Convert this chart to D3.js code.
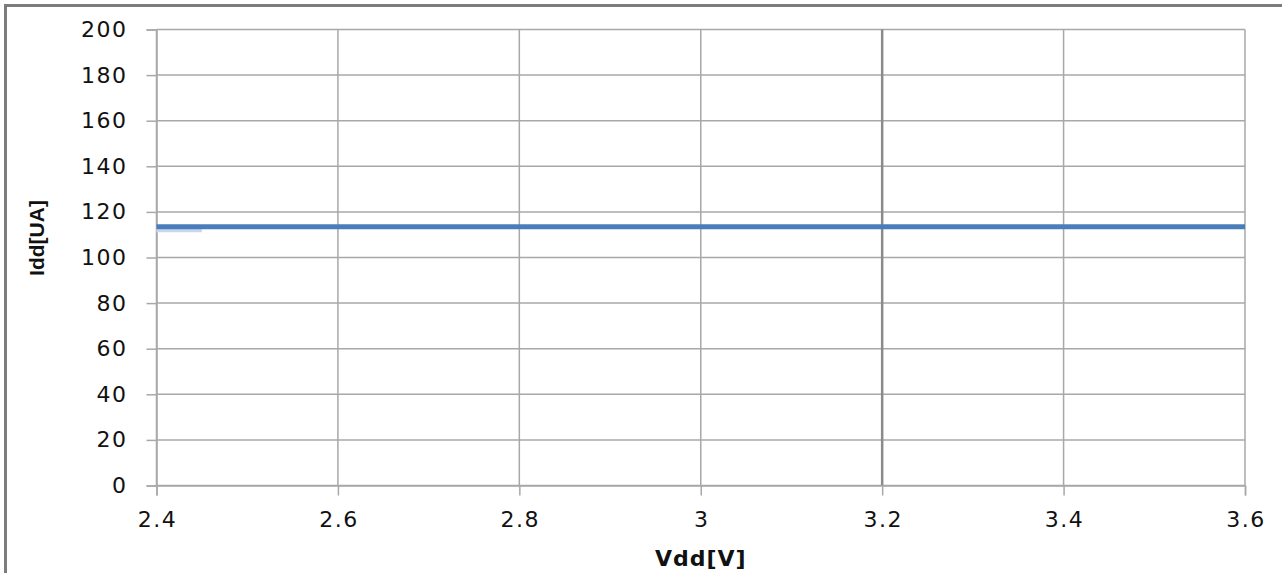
<!DOCTYPE html>
<html><head><meta charset="utf-8">
<script src="https://cdn.jsdelivr.net/npm/d3@7"></script>
<style>body{margin:0;background:#fff;}svg{display:block;}</style>
</head><body>
<svg id="c" width="1282" height="573"></svg>
<script>
const vdd = [2.4, 2.6, 2.8, 3.0, 3.2, 3.4, 3.6];
const idd = [113.5, 113.5, 113.5, 113.5, 113.5, 113.5, 113.5];
const vddShort = [2.4, 2.45];
const iddShort = [112.2, 112.2];
const xTicks = [2.4, 2.6, 2.8, 3.0, 3.2, 3.4, 3.6];
const yTicks = [0, 20, 40, 60, 80, 100, 120, 140, 160, 180, 200];
const xTitle = "Vdd[V]";
const yTitle = "Idd[UA]";

const svg = d3.select("#c");
const L = 156.5, R = 1245, T = 29.5, B = 485.5;
const x = d3.scaleLinear().domain([2.4, 3.6]).range([L, R]);
const y = d3.scaleLinear().domain([0, 200]).range([B, T]);

// outer border
svg.append("rect").attr("x", 5.5).attr("y", 5.5).attr("width", 1400).attr("height", 700)
  .attr("fill", "none").attr("stroke", "#7c7c7c").attr("stroke-width", 3);

const grid = "#a8a8a8";
// horizontal grid
svg.append("g").selectAll("line").data(yTicks).join("line")
  .attr("x1", L).attr("x2", R).attr("y1", d => y(d)).attr("y2", d => y(d))
  .attr("stroke", grid).attr("stroke-width", 1.5);
// vertical grid
svg.append("g").selectAll("line").data(xTicks).join("line")
  .attr("x1", d => x(d)).attr("x2", d => x(d)).attr("y1", T).attr("y2", B)
  .attr("stroke", d => d === 3.2 ? "#8a8a8a" : grid)
  .attr("stroke-width", d => d === 3.2 ? 2.5 : 1.5);

// axes
const yAxis = svg.append("g").attr("transform", `translate(${L},0)`)
  .call(d3.axisLeft(y).tickValues(yTicks).tickSize(10).tickPadding(21).tickFormat(d3.format("d")));
const xAxis = svg.append("g").attr("transform", `translate(0,${B})`)
  .call(d3.axisBottom(x).tickValues(xTicks).tickSize(10).tickPadding(16).tickFormat(d => String(+d.toFixed(1))));
[yAxis, xAxis].forEach(a => {
  a.select(".domain").attr("stroke", grid).attr("stroke-width", 1.5);
  a.selectAll(".tick line").attr("stroke", grid).attr("stroke-width", 1.5);
  a.selectAll("text").attr("font-family", "DejaVu Sans").attr("font-size", 22)
    .attr("letter-spacing", 1.5).attr("fill", "#111");
});
yAxis.selectAll("text").attr("dx", 2);
xAxis.selectAll("text").attr("dx", 0.5);

// series
const line = d3.line().x(d => x(d[0])).y(d => y(d[1]));
svg.append("path").datum(vddShort.map((v, i) => [v, iddShort[i]]))
  .attr("d", line).attr("fill", "none").attr("stroke", "#c9d7ee").attr("stroke-width", 5);
svg.append("path").datum(vdd.map((v, i) => [v, idd[i]]))
  .attr("d", line).attr("fill", "none").attr("stroke", "#4a7ebb").attr("stroke-width", 5);

// titles
svg.append("text").attr("x", (L + R) / 2).attr("y", 566).attr("text-anchor", "middle")
  .attr("font-family", "DejaVu Sans").attr("font-weight", "bold").attr("font-size", 22)
  .attr("letter-spacing", 1).attr("fill", "#111").text(xTitle);
svg.append("text").attr("transform", "translate(44,238) rotate(-90)").attr("text-anchor", "middle")
  .attr("font-family", "Liberation Sans").attr("font-weight", "bold").attr("font-size", 21)
  .attr("fill", "#111").text(yTitle);
</script>
</body></html>
